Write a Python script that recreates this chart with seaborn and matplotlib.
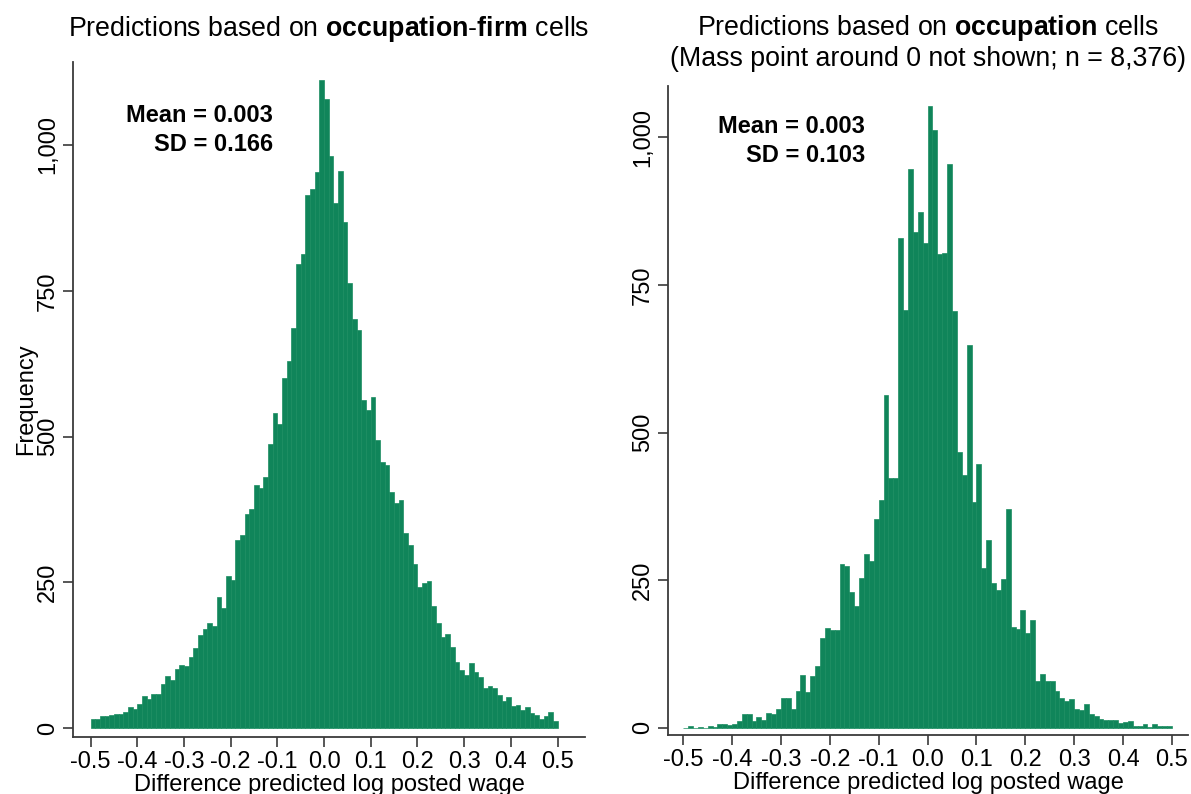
import numpy as np
import pandas as pd
import matplotlib
matplotlib.use("Agg")
import matplotlib.pyplot as plt
from matplotlib.ticker import FuncFormatter
import seaborn as sns

# counts per bin (100 bins of width 0.01 on [-0.5, 0.5])
firm_counts = [
    16, 16, 21, 21, 23, 24, 25, 27, 36, 33,
    42, 56, 50, 59, 59, 76, 90, 82, 101, 109,
    107, 122, 137, 159, 170, 181, 176, 225, 206, 261,
    254, 322, 331, 367, 376, 417, 411, 431, 487, 541,
    522, 600, 630, 686, 796, 813, 915, 924, 954, 1112,
    1079, 981, 901, 956, 868, 764, 701, 682, 563, 546,
    567, 494, 456, 451, 405, 386, 391, 335, 314, 282,
    242, 249, 253, 210, 181, 157, 162, 140, 114, 99,
    92, 112, 96, 87, 69, 73, 69, 57, 47, 54,
    38, 39, 31, 37, 26, 22, 15, 21, 27, 13,
]
occ_counts = [
    0, 3, 0, 2, 0, 3, 1, 6, 6, 5,
    6, 12, 23, 23, 12, 19, 14, 25, 24, 32,
    50, 50, 32, 62, 90, 61, 88, 105, 153, 170,
    166, 166, 278, 275, 230, 207, 254, 295, 282, 353,
    386, 564, 423, 423, 829, 707, 947, 840, 874, 821,
    1054, 1013, 802, 805, 955, 706, 467, 429, 649, 382,
    447, 270, 318, 245, 233, 253, 371, 171, 168, 199,
    160, 182, 80, 92, 79, 79, 62, 51, 45, 49,
    32, 31, 40, 24, 20, 15, 14, 14, 13, 9,
    10, 12, 4, 4, 7, 1, 7, 4, 4, 3,
]
bin_lo, bin_hi, bin_w = -0.5, 0.5, 0.01
firm_mean, firm_sd = "0.003", "0.166"
occ_mean, occ_sd = "0.003", "0.103"
x_ticks = [-0.5, -0.4, -0.3, -0.2, -0.1, 0.0, 0.1, 0.2, 0.3, 0.4, 0.5]
y_ticks = [0, 250, 500, 750, 1000]

centers = bin_lo + bin_w * (np.arange(len(firm_counts)) + 0.5)
df = pd.DataFrame({"diff": centers, "firm": firm_counts, "occ": occ_counts})

sns.set_theme(style="ticks")
plt.rcParams["font.family"] = ["Liberation Sans", "DejaVu Sans"]
plt.rcParams["mathtext.fontset"] = "custom"
plt.rcParams["mathtext.rm"] = "Liberation Sans"
plt.rcParams["mathtext.bf"] = "Liberation Sans:bold"
plt.rcParams["text.color"] = "black"
plt.rcParams["axes.labelcolor"] = "black"

green = "#10855a"
axis_col = "#3a3a3a"
fs = 17
title_fs = 19.3

fig = plt.figure(figsize=(11.91, 7.94), dpi=100)
ax1 = fig.add_axes([0.0613, 0.0718, 0.430, 0.850])
ax2 = fig.add_axes([0.5609, 0.0743, 0.4366, 0.818])

for ax, col in ((ax1, "firm"), (ax2, "occ")):
    sns.histplot(data=df, x="diff", weights=col, binwidth=bin_w,
                 binrange=(bin_lo, bin_hi), ax=ax, color=green, alpha=1,
                 edgecolor="#1a8d60", linewidth=0.5)

ax1.set_xlim(-0.5375, 0.559)
ax1.set_ylim(-15, 1142)
ax2.set_xlim(-0.531, 0.533)
ax2.set_ylim(-12, 1088)

for ax in (ax1, ax2):
    sns.despine(ax=ax)
    ax.set_xticks(x_ticks)
    ax.set_xticklabels([f"{t:.1f}" for t in x_ticks])
    ax.set_yticks(y_ticks)
    ax.yaxis.set_major_formatter(FuncFormatter(lambda v, p: f"{v:,.0f}"))
    ax.tick_params(axis="both", labelsize=fs, length=7, width=1.2,
                   color=axis_col, labelcolor="black", pad=3)
    ax.tick_params(axis="y", labelrotation=90)
    for lab in ax.get_yticklabels():
        lab.set_va("center")
    for s in ("left", "bottom"):
        ax.spines[s].set_color(axis_col)
        ax.spines[s].set_linewidth(1.3)
    ax.set_xlabel("Difference predicted log posted wage", fontsize=fs, labelpad=1)

ax1.set_ylabel("Frequency", fontsize=fs, labelpad=0)
ax2.set_ylabel("")

ax1.set_title(r"Predictions based on $\bf{occupation}$-$\bf{firm}$ cells",
              fontsize=title_fs, pad=19)
ax2.set_title("Predictions based on $\\bf{occupation}$ cells\n"
              "(Mass point around 0 not shown; n = 8,376)",
              fontsize=title_fs, pad=14, linespacing=1.15)

ax1.text(-0.11, 1050, f"Mean = {firm_mean}", ha="right", va="center",
         fontsize=fs, fontweight="bold")
ax1.text(-0.11, 1001, f"SD = {firm_sd}", ha="right", va="center",
         fontsize=fs, fontweight="bold")
ax2.text(-0.128, 1019, f"Mean = {occ_mean}", ha="right", va="center",
         fontsize=fs, fontweight="bold")
ax2.text(-0.128, 969, f"SD = {occ_sd}", ha="right", va="center",
         fontsize=fs, fontweight="bold")

fig.savefig("out.png", dpi=100)
